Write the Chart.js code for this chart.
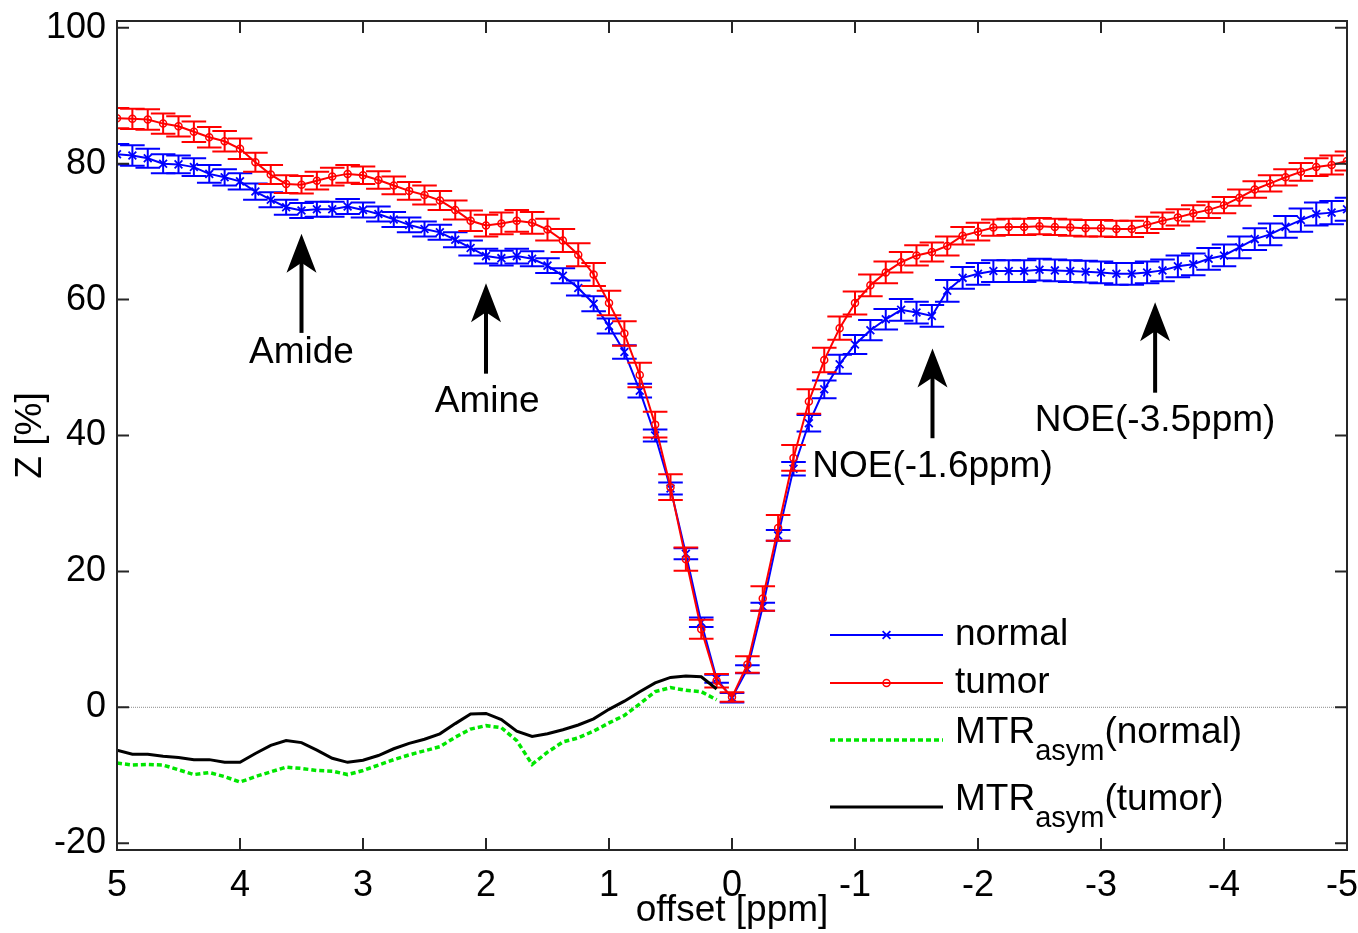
<!DOCTYPE html>
<html>
<head>
<meta charset="utf-8">
<script src="https://cdn.jsdelivr.net/npm/chart.js@4.4.1/dist/chart.umd.min.js"></script>
<style>
  html, body { margin: 0; padding: 0; background: #fff; }
  #wrap { width: 1358px; height: 933px; position: relative; }
</style>
</head>
<body>
<div id="wrap"><canvas id="myChart"></canvas></div>
<script>
// offsets in ppm (x axis runs from +5 down to -5)
const offsets = [5, 4.875, 4.75, 4.625, 4.5, 4.375, 4.25, 4.125, 4, 3.875, 3.75, 3.625, 3.5, 3.375, 3.25, 3.125,
  3, 2.875, 2.75, 2.625, 2.5, 2.375, 2.25, 2.125, 2, 1.875, 1.75, 1.625, 1.5, 1.375, 1.25, 1.125,
  1, 0.875, 0.75, 0.625, 0.5, 0.375, 0.25, 0.125, 0, -0.125, -0.25, -0.375, -0.5, -0.625, -0.75, -0.875,
  -1, -1.125, -1.25, -1.375, -1.5, -1.625, -1.75, -1.875, -2, -2.125, -2.25, -2.375, -2.5, -2.625, -2.75, -2.875,
  -3, -3.125, -3.25, -3.375, -3.5, -3.625, -3.75, -3.875, -4, -4.125, -4.25, -4.375, -4.5, -4.625, -4.75, -4.875, -5];

// Z spectrum, normal tissue [%]
const normalZ = [81.4, 81.2, 80.8, 80.0, 79.9, 79.5, 78.5, 78.0, 77.4, 75.9, 74.7, 73.6, 73.1, 73.3, 73.3, 73.7,
  73.2, 72.6, 71.8, 71.0, 70.4, 69.9, 68.8, 67.6, 66.4, 66.1, 66.4, 66.0, 65.0, 63.5, 61.7, 59.4,
  56.1, 52.3, 46.6, 40.0, 32.2, 22.6, 12.5, 4.2, 1.4, 5.6, 14.8, 25.3, 35.1, 41.8, 46.8, 50.5,
  53.4, 55.5, 57.1, 58.5, 58.1, 57.6, 61.3, 63.2, 63.8, 64.2, 64.2, 64.2, 64.4, 64.3, 64.2, 64.1,
  64.0, 63.8, 63.8, 64.0, 64.3, 64.9, 65.2, 66.0, 66.5, 67.7, 68.9, 69.6, 70.7, 71.7, 72.6, 72.8, 73.3];
const normalErr = [1.5, 1.5, 1.4, 1.4, 1.3, 1.3, 1.3, 1.2, 1.2, 1.2, 1.1, 1.1, 1.1, 1.1, 1.1, 1.1,
  1.1, 1.1, 1.1, 1.1, 1.1, 1.1, 1.1, 1.1, 1.1, 1.1, 1.1, 1.1, 1.1, 1.1, 1.1, 1.1,
  1.1, 1.0, 1.0, 0.9, 0.9, 0.8, 0.7, 0.6, 0.7, 0.6, 0.6, 0.8, 1.0, 1.2, 1.3, 1.4,
  1.4, 1.5, 1.5, 1.6, 1.6, 1.6, 1.6, 1.6, 1.6, 1.6, 1.6, 1.6, 1.6, 1.6, 1.6, 1.6,
  1.6, 1.6, 1.6, 1.6, 1.6, 1.6, 1.6, 1.6, 1.6, 1.6, 1.6, 1.6, 1.6, 1.7, 1.7, 1.7, 1.7];

// Z spectrum, tumor [%]
const tumorZ = [86.7, 86.6, 86.5, 85.9, 85.5, 84.7, 83.9, 83.3, 82.2, 80.2, 78.4, 77.0, 76.9, 77.5, 78.1, 78.5,
  78.3, 77.6, 76.8, 76.0, 75.4, 74.6, 73.2, 71.6, 70.9, 71.2, 71.6, 71.3, 70.3, 68.7, 66.6, 63.7,
  59.5, 55.0, 48.9, 41.6, 32.4, 21.8, 11.5, 3.9, 1.5, 6.3, 16.0, 26.4, 36.7, 45.0, 51.1, 55.8,
  59.5, 62.1, 64.0, 65.5, 66.5, 67.0, 67.9, 69.4, 70.0, 70.6, 70.7, 70.7, 70.8, 70.7, 70.6, 70.5,
  70.5, 70.4, 70.4, 71.0, 71.6, 72.1, 72.7, 73.2, 73.9, 75.0, 76.2, 77.1, 78.0, 78.8, 79.5, 79.8, 80.4];
const tumorErr = [1.5, 1.5, 1.5, 1.5, 1.5, 1.5, 1.5, 1.5, 1.5, 1.4, 1.4, 1.3, 1.3, 1.3, 1.3, 1.3,
  1.3, 1.3, 1.3, 1.3, 1.4, 1.4, 1.4, 1.5, 1.6, 1.6, 1.6, 1.6, 1.6, 1.7, 1.7, 1.7,
  1.8, 1.8, 1.8, 1.9, 1.9, 1.7, 1.4, 1.0, 0.7, 1.2, 1.8, 1.9, 1.9, 1.8, 1.8, 1.7,
  1.7, 1.6, 1.6, 1.5, 1.5, 1.4, 1.4, 1.3, 1.3, 1.2, 1.2, 1.2, 1.2, 1.2, 1.2, 1.2,
  1.2, 1.2, 1.2, 1.2, 1.2, 1.2, 1.2, 1.2, 1.2, 1.2, 1.2, 1.2, 1.2, 1.3, 1.3, 1.4, 1.4];

// MTR asymmetry, only for the positive offsets 5 .. 0.125 ppm
const mtrOffsets = offsets.slice(0, 40);
const mtrNormal = [-8.2, -8.5, -8.4, -8.5, -9.2, -9.9, -9.6, -10.2, -11.0, -10.2, -9.5, -8.8, -9.0, -9.3, -9.4, -9.9,
  -9.3, -8.5, -7.7, -7.0, -6.4, -5.8, -4.4, -3.2, -2.7, -3.0, -4.9, -8.4, -6.6, -5.1, -4.5, -3.5,
  -2.3, -1.2, 0.5, 2.3, 2.9, 2.5, 2.3, 1.1];
const mtrTumor = [-6.3, -6.9, -6.9, -7.2, -7.4, -7.7, -7.7, -8.1, -8.1, -6.8, -5.6, -4.9, -5.2, -6.3, -7.5, -8.1,
  -7.8, -7.1, -6.1, -5.3, -4.7, -3.9, -2.4, -1.0, -0.9, -1.8, -3.5, -4.3, -3.9, -3.3, -2.6, -1.7,
  -0.3, 0.9, 2.3, 3.6, 4.4, 4.6, 4.5, 2.7];

const xTicks = [5, 4, 3, 2, 1, 0, -1, -2, -3, -4, -5];
const yTicks = [-20, 0, 20, 40, 60, 80, 100];

// arrows with labels (ppm, Z%)
const notes = [
  { text: 'Amide', x: 3.5, tip: 69.7, tail: 55.1, labelX: 3.5, labelY: 52.2 },
  { text: 'Amine', x: 2.0, tip: 62.4, tail: 49.1, labelX: 1.99, labelY: 45.0 },
  { text: 'NOE(-1.6ppm)', x: -1.63, tip: 52.8, tail: 39.6, labelX: -1.63, labelY: 35.4 },
  { text: 'NOE(-3.5ppm)', x: -3.44, tip: 59.6, tail: 46.3, labelX: -3.44, labelY: 42.2 }
];

const FONT = "'Liberation Sans', Arial, sans-serif";
const CAP = 0.1; // error bar cap half width in ppm

function pts(xs, ys) {
  return ys.map((v, i) => ({ x: xs[i], y: v }));
}

function drawArrow(ctx, x, yTip, yTail) {
  ctx.save();
  ctx.fillStyle = '#000';
  ctx.strokeStyle = '#000';
  ctx.lineWidth = 4;
  ctx.beginPath();
  ctx.moveTo(x, yTail);
  ctx.lineTo(x, yTip + 20);
  ctx.stroke();
  ctx.beginPath();
  ctx.moveTo(x, yTip);
  ctx.lineTo(x + 15, yTip + 39);
  ctx.lineTo(x, yTip + 29);
  ctx.lineTo(x - 15, yTip + 39);
  ctx.closePath();
  ctx.fill();
  ctx.restore();
}

const extras = {
  id: 'extras',
  beforeDatasetsDraw(chart) {
    const { ctx, chartArea: a, scales: { y } } = chart;
    const y0 = y.getPixelForValue(0);
    ctx.save();
    ctx.strokeStyle = '#8c8c8c';
    ctx.lineWidth = 1;
    ctx.setLineDash([1, 1]);
    ctx.beginPath();
    ctx.moveTo(a.left, y0);
    ctx.lineTo(a.right, y0);
    ctx.stroke();
    ctx.restore();
  },
  afterDatasetDraw(chart, args) {
    const ds = chart.data.datasets[args.index];
    if (!ds.errors) return;
    const { ctx, chartArea: a, scales: { x, y } } = chart;
    ctx.save();
    ctx.beginPath();
    ctx.rect(a.left, a.top, a.right - a.left, a.bottom - a.top);
    ctx.clip();
    ctx.strokeStyle = ds.borderColor;
    ctx.lineWidth = 2;
    ds.data.forEach((p, i) => {
      const e = ds.errors[i];
      const px = x.getPixelForValue(p.x);
      const lo = y.getPixelForValue(p.y - e);
      const hi = y.getPixelForValue(p.y + e);
      const xl = x.getPixelForValue(p.x + CAP);
      const xr = x.getPixelForValue(p.x - CAP);
      ctx.beginPath();
      ctx.moveTo(px, lo); ctx.lineTo(px, hi);
      ctx.moveTo(xl, lo); ctx.lineTo(xr, lo);
      ctx.moveTo(xl, hi); ctx.lineTo(xr, hi);
      ctx.stroke();
    });
    ctx.restore();
  },
  afterDraw(chart) {
    const { ctx, chartArea: a, scales: { x, y } } = chart;
    ctx.save();
    // box + inward ticks on all four sides
    ctx.strokeStyle = '#262626';
    ctx.lineWidth = 2;
    ctx.strokeRect(a.left, a.top, a.right - a.left, a.bottom - a.top);
    ctx.beginPath();
    x.ticks.forEach(t => {
      const px = x.getPixelForValue(t.value);
      ctx.moveTo(px, a.bottom); ctx.lineTo(px, a.bottom - 12);
      ctx.moveTo(px, a.top); ctx.lineTo(px, a.top + 12);
    });
    y.ticks.forEach(t => {
      const py = y.getPixelForValue(t.value);
      ctx.moveTo(a.left, py); ctx.lineTo(a.left + 12, py);
      ctx.moveTo(a.right, py); ctx.lineTo(a.right - 12, py);
    });
    ctx.stroke();

    // annotations
    ctx.fillStyle = '#000';
    ctx.font = '37px ' + FONT;
    ctx.textAlign = 'center';
    ctx.textBaseline = 'middle';
    notes.forEach(n => {
      drawArrow(ctx, x.getPixelForValue(n.x), y.getPixelForValue(n.tip), y.getPixelForValue(n.tail));
      ctx.fillText(n.text, x.getPixelForValue(n.labelX), y.getPixelForValue(n.labelY));
    });

    // legend (no box)
    const rowsY = [635, 683, 740, 807];
    const lx0 = 830, lx1 = 943, tx = 955;
    chart.data.datasets.forEach((ds, i) => {
      const ly = rowsY[i];
      ctx.save();
      ctx.strokeStyle = ds.borderColor;
      ctx.lineWidth = ds.borderWidth;
      ctx.setLineDash(ds.borderDash || []);
      ctx.beginPath();
      ctx.moveTo(lx0, ly); ctx.lineTo(lx1, ly);
      ctx.stroke();
      ctx.setLineDash([]);
      if (ds.pointRadius > 0) {
        ctx.fillStyle = 'rgba(0,0,0,0)';
        ctx.lineWidth = ds.pointBorderWidth;
        Chart.helpers.drawPoint(ctx, {
          pointStyle: ds.pointStyle, radius: ds.pointRadius, borderWidth: ds.pointBorderWidth
        }, (lx0 + lx1) / 2, ly);
      }
      ctx.restore();

      ctx.fillStyle = '#000';
      ctx.textAlign = 'left';
      ctx.textBaseline = 'middle';
      const m = ds.label.match(/^(.*)_\{(.*)\}(.*)$/);
      if (!m) {
        ctx.font = '37px ' + FONT;
        ctx.fillText(ds.label, tx, ly);
      } else {
        const base = ly - 7;
        ctx.font = '37px ' + FONT;
        ctx.fillText(m[1], tx, base);
        let cx = tx + ctx.measureText(m[1]).width;
        ctx.font = '29px ' + FONT;
        ctx.fillText(m[2], cx, base + 19);
        cx += ctx.measureText(m[2]).width;
        ctx.font = '37px ' + FONT;
        ctx.fillText(m[3], cx, base);
      }
    });
    ctx.restore();
  }
};

const ctx = document.getElementById('myChart').getContext('2d');
const myChart = new Chart(ctx, {
  type: 'line',
  data: {
    datasets: [
      {
        label: 'normal',
        data: pts(offsets, normalZ),
        errors: normalErr,
        borderColor: '#0000ff',
        backgroundColor: 'rgba(0,0,0,0)',
        borderWidth: 2,
        pointStyle: 'crossRot',
        pointRadius: 5.5,
        pointBorderWidth: 1.8,
        pointBorderColor: '#0000ff',
        tension: 0,
        order: 4
      },
      {
        label: 'tumor',
        data: pts(offsets, tumorZ),
        errors: tumorErr,
        borderColor: '#ff0000',
        backgroundColor: 'rgba(0,0,0,0)',
        borderWidth: 2,
        pointStyle: 'circle',
        pointRadius: 3.5,
        pointBorderWidth: 1.5,
        pointBorderColor: '#ff0000',
        pointBackgroundColor: 'rgba(0,0,0,0)',
        tension: 0,
        order: 3
      },
      {
        label: 'MTR_{asym}(normal)',
        data: pts(mtrOffsets, mtrNormal),
        borderColor: '#00e600',
        borderWidth: 3.5,
        borderDash: [5, 3],
        pointRadius: 0,
        tension: 0,
        order: 2
      },
      {
        label: 'MTR_{asym}(tumor)',
        data: pts(mtrOffsets, mtrTumor),
        borderColor: '#000000',
        borderWidth: 3,
        pointRadius: 0,
        tension: 0,
        order: 1
      }
    ]
  },
  options: {
    responsive: true,
    maintainAspectRatio: false,
    animation: false,
    devicePixelRatio: 1,
    events: [],
    layout: { padding: { top: 21, right: 11, left: 0, bottom: 0 } },
    plugins: {
      legend: { display: false },
      tooltip: { enabled: false }
    },
    scales: {
      x: {
        type: 'linear',
        reverse: true,
        min: -5,
        max: 5,
        afterBuildTicks: s => { s.ticks = xTicks.map(v => ({ value: v })); },
        afterFit: s => { s.height = 83; s.paddingLeft = 0; s.paddingRight = 0; },
        grid: { display: false, drawTicks: false },
        border: { display: false },
        ticks: {
          color: '#000',
          font: { family: FONT, size: 36 },
          padding: 14,
          maxRotation: 0,
          autoSkip: false,
          // last label is nudged left so it stays inside the canvas
          callback: v => (v === -5 ? '-5 ' : String(v))
        },
        title: {
          display: true,
          text: 'offset [ppm]',
          color: '#000',
          font: { family: FONT, size: 37 },
          padding: { top: 0, bottom: 0 }
        }
      },
      y: {
        type: 'linear',
        min: -21,
        max: 101,
        afterBuildTicks: s => { s.ticks = yTicks.map(v => ({ value: v })); },
        afterFit: s => { s.width = 117; s.paddingTop = 0; s.paddingBottom = 0; },
        grid: { display: false, drawTicks: false },
        border: { display: false },
        ticks: {
          color: '#000',
          font: { family: FONT, size: 36 },
          padding: 11,
          autoSkip: false,
          callback: v => String(v)
        },
        title: {
          display: true,
          text: 'Z [%]',
          color: '#000',
          font: { family: FONT, size: 37 },
          padding: { top: 9, bottom: 0 }
        }
      }
    }
  },
  plugins: [extras]
});
</script>
</body>
</html>
